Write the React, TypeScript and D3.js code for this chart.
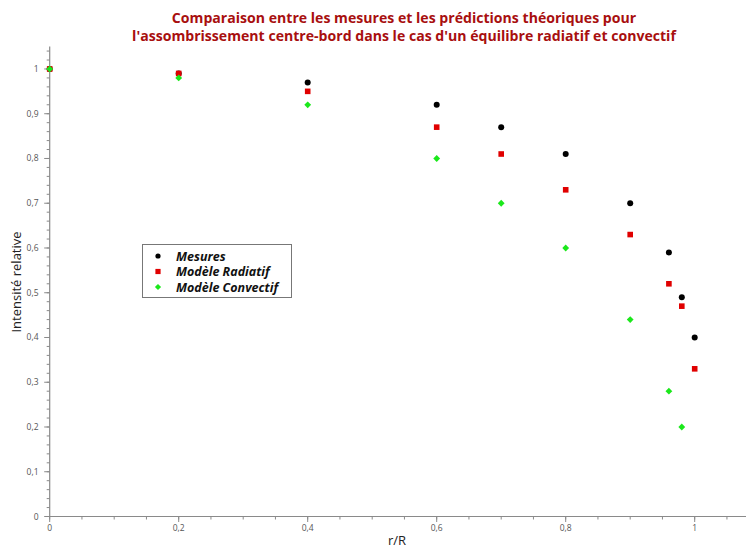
import React from "react";
import * as d3 from "d3";

const xValues = [0, 0.2, 0.4, 0.6, 0.7, 0.8, 0.9, 0.96, 0.98, 1.0];
const mesures = [1.0, 0.99, 0.97, 0.92, 0.87, 0.81, 0.7, 0.59, 0.49, 0.4];
const radiatif = [1.0, 0.99, 0.95, 0.87, 0.81, 0.73, 0.63, 0.52, 0.47, 0.33];
const convectifX = [0, 0.2, 0.4, 0.6, 0.7, 0.8, 0.9, 0.96, 0.98];
const convectif = [1.0, 0.98, 0.92, 0.8, 0.7, 0.6, 0.44, 0.28, 0.2];
const xMajorTicks = [0, 0.2, 0.4, 0.6, 0.8, 1];
const yMajorTicks = [0, 0.1, 0.2, 0.3, 0.4, 0.5, 0.6, 0.7, 0.8, 0.9, 1];
const titleLines = [
  "Comparaison entre les mesures et les prédictions théoriques pour",
  "l'assombrissement centre-bord dans le cas d'un équilibre radiatif et convectif",
];
const legendLabels = ["Mesures", "Modèle Radiatif", "Modèle Convectif"];

const W = 746;
const H = 548;
const fmt = (v: number) => d3.format("~g")(+v.toFixed(2)).replace(".", ",");

export default function App() {
  const x = d3.scaleLinear().domain([0, 1.08]).range([49.7, 746.3]);
  const y = d3.scaleLinear().domain([0, 1.05]).range([516.5, 46.6]);
  const xMinor = d3.range(0, 1.0801, 0.05);
  const yMinor = d3.range(0, 1.0501, 0.02);
  const axisColor = "#8a8a8a";
  const tickText = "#555";
  const font = "'Open Sans', 'DejaVu Sans', sans-serif";

  const diamond = (cx: number, cy: number, r = 3.4) =>
    `M${cx},${cy - r}L${cx + r},${cy}L${cx},${cy + r}L${cx - r},${cy}Z`;

  return (
    <svg
      width={W}
      height={H}
      style={{ position: "absolute", left: 0, top: 0, background: "#fff" }}
      fontFamily={font}
    >
      <rect width={W} height={H} fill="#fff" />
      {titleLines.map((t, i) => (
        <text
          key={i}
          x={404}
          y={23 + i * 18}
          textAnchor="middle"
          fontSize={14.1}
          fontWeight="bold"
          fill="#a80f0f"
        >
          {t}
        </text>
      ))}

      {/* Y axis */}
      <line x1={x(0)} x2={x(0)} y1={y(1.05)} y2={y(0)} stroke={axisColor} strokeWidth={1.2} />
      {yMinor.map((v, i) => (
        <line key={"ym" + i} x1={x(0) - 3} x2={x(0)} y1={y(v)} y2={y(v)} stroke={axisColor} />
      ))}
      {yMajorTicks.map((v, i) => (
        <g key={"yM" + i}>
          <line x1={x(0) - 5.5} x2={x(0)} y1={y(v)} y2={y(v)} stroke={axisColor} />
          <text x={38.5} y={y(v) + 3} textAnchor="end" fontSize={8.5} fill={tickText}>
            {fmt(v)}
          </text>
        </g>
      ))}

      {/* X axis */}
      <line x1={x(0)} x2={W} y1={y(0)} y2={y(0)} stroke={axisColor} strokeWidth={1.2} />
      {xMinor.map((v, i) => (
        <line key={"xm" + i} x1={x(v)} x2={x(v)} y1={y(0)} y2={y(0) + 3} stroke={axisColor} />
      ))}
      {xMajorTicks.map((v, i) => (
        <g key={"xM" + i}>
          <line x1={x(v)} x2={x(v)} y1={y(0)} y2={y(0) + 5.5} stroke={axisColor} />
          <text x={x(v)} y={531} textAnchor="middle" fontSize={8.5} fill={tickText}>
            {fmt(v)}
          </text>
        </g>
      ))}

      <text x={397} y={545} textAnchor="middle" fontSize={13} fill="#222">
        r/R
      </text>
      <text
        transform={`translate(21,${282}) rotate(-90)`}
        textAnchor="middle"
        fontSize={13}
        fill="#222"
      >
        Intensité relative
      </text>

      {/* Data */}
      {xValues.map((v, i) => (
        <circle key={"m" + i} cx={x(v)} cy={y(mesures[i])} r={3} fill="#000" />
      ))}
      {xValues.map((v, i) => (
        <rect
          key={"r" + i}
          x={x(v) - 2.8}
          y={y(radiatif[i]) - 2.8}
          width={5.6}
          height={5.6}
          fill="#e00000"
        />
      ))}
      {convectifX.map((v, i) => (
        <path key={"c" + i} d={diamond(x(v), y(convectif[i]))} fill="#1be81b" />
      ))}

      {/* Legend */}
      <rect x={142.5} y={244.5} width={149} height={53} fill="#fff" stroke="#777" strokeWidth={1} />
      {legendLabels.map((l, i) => {
        const cy = 256 + i * 15.5;
        return (
          <g key={"l" + i}>
            {i === 0 && <circle cx={158} cy={cy} r={2.6} fill="#000" />}
            {i === 1 && <rect x={155.4} y={cy - 2.6} width={5.2} height={5.2} fill="#e00000" />}
            {i === 2 && <path d={diamond(158, cy, 3.1)} fill="#1be81b" />}
            <text
              x={176}
              y={cy + 4.5}
              fontSize={12.5}
              fontWeight="bold"
              fontStyle="italic"
              fill="#111"
            >
              {l}
            </text>
          </g>
        );
      })}
    </svg>
  );
}
